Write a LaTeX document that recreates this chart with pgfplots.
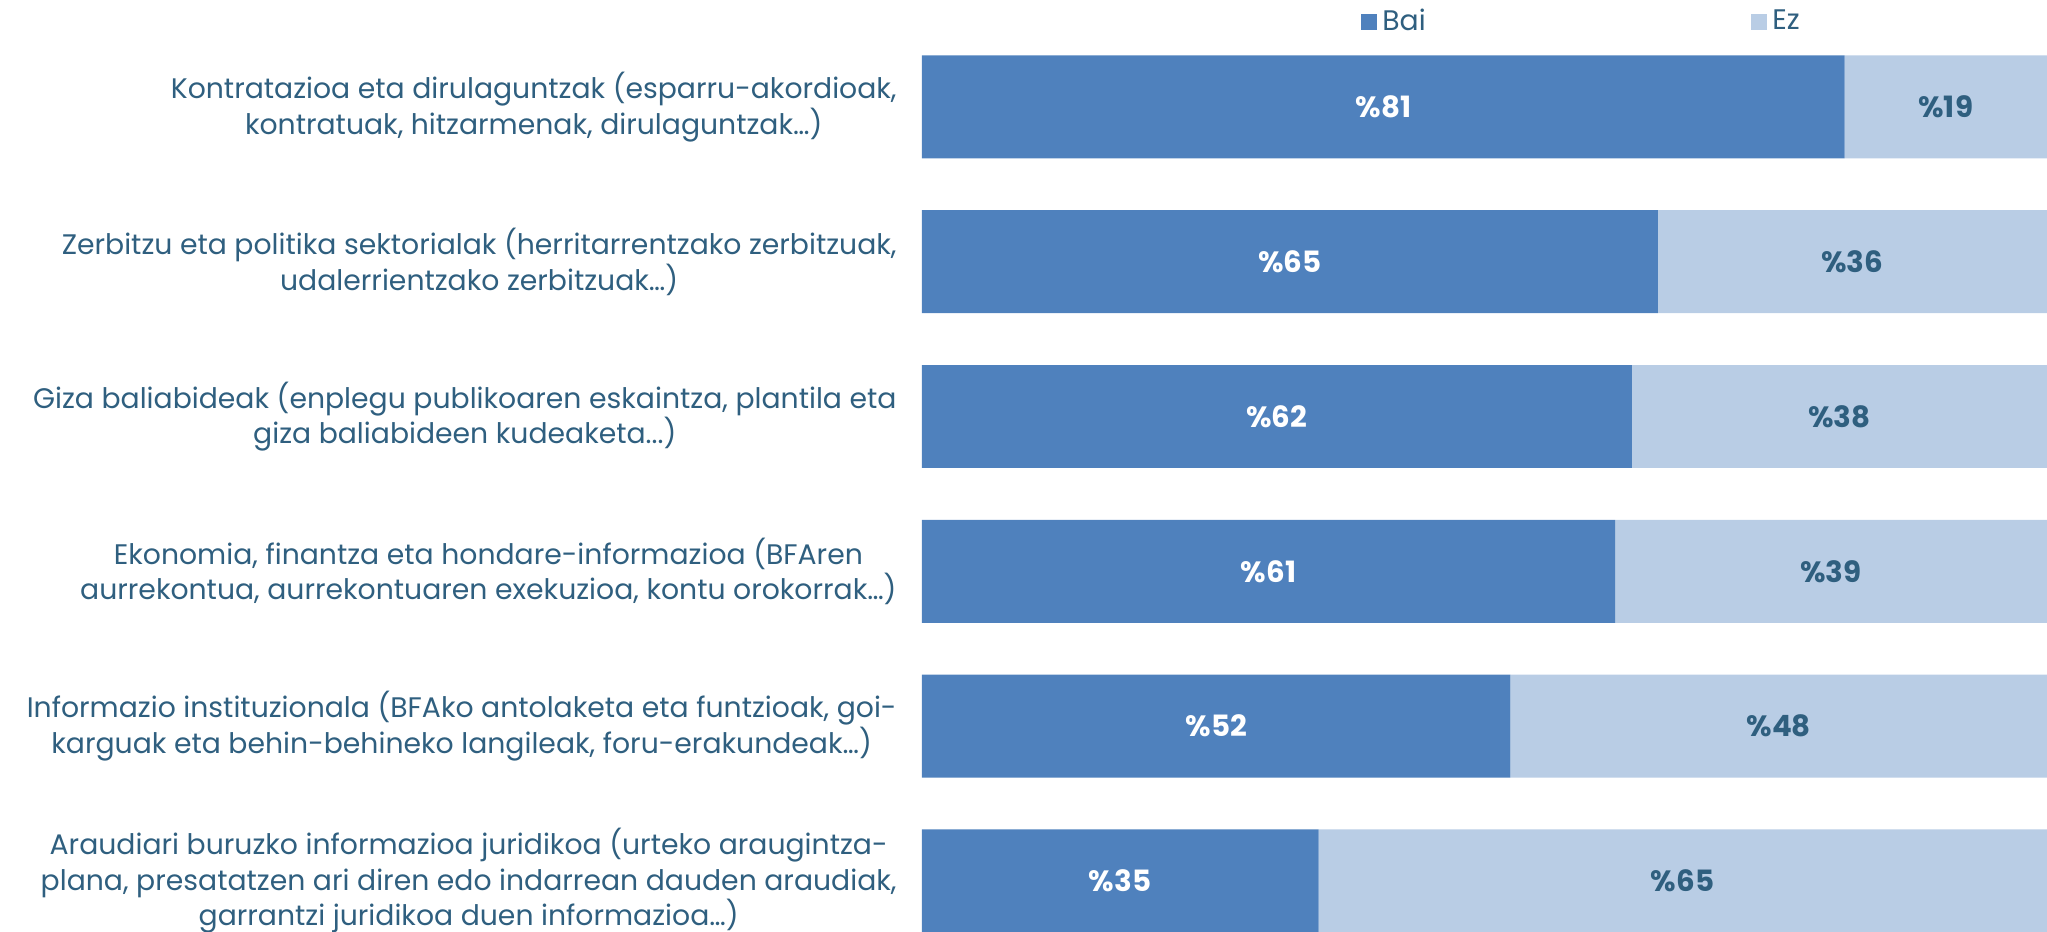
\documentclass[border=0pt]{standalone}
\usepackage{fontspec}
\setmainfont{Poppins}
\usepackage{pgfplots}
\pgfplotsset{compat=1.18}
\definecolor{bai}{HTML}{4F81BD}
\definecolor{ez}{HTML}{B9CDE5}
\definecolor{txt}{HTML}{2F5F7F}
\begin{document}
\begin{tikzpicture}
\path[use as bounding box] (0pt,0pt) rectangle (767.625pt,-349.5pt);
\begin{axis}[
  at={(345.75pt,-20.06pt)}, anchor=north west,
  scale only axis, width=421.875pt, height=329.6pt,
  xbar stacked, bar width=38.6pt,
  xmin=0, xmax=100, ymin=-0.345, ymax=5.333, y dir=reverse,
  hide x axis, axis y line*=left, y axis line style={draw=none},
  tick style={draw=none},
  ytick={0,1,2,3,4,5},
  yticklabels={
    {Kontratazioa eta dirulaguntzak (esparru-akordioak,\\kontratuak, hitzarmenak, dirulaguntzak…)},
    {Zerbitzu eta politika sektorialak (herritarrentzako zerbitzuak,\\udalerrientzako zerbitzuak…)},
    {Giza baliabideak (enplegu publikoaren eskaintza, plantila eta\\giza baliabideen kudeaketa.{}.{}.)},
    {Ekonomia, finantza eta hondare-informazioa (BFAren\\aurrekontua, aurrekontuaren exekuzioa, kontu orokorrak…)},
    {Informazio instituzionala (BFAko antolaketa eta funtzioak, goi-\\karguak eta behin-behineko langileak, foru-erakundeak…)},
    {Araudiari buruzko informazioa juridikoa (urteko araugintza-\\plana, presatatzen ari diren edo indarrean dauden araudiak,\\garrantzi juridikoa duen informazioa…)}},
  yticklabel style={align=center, font=\fontsize{10.6}{13.3}\selectfont, text=txt, xshift=-6pt},
  legend columns=2,
  legend style={at={(0.5876,1)}, anchor=center, yshift=11.8pt, draw=none, fill=none,
    font=\fontsize{10.6}{12}\selectfont, text=txt,
    /tikz/every even column/.append style={column sep=120pt}},
  legend image code/.code={\fill[#1] (0pt,-3pt) rectangle (6pt,3pt);},
]
\addplot[fill=bai, draw=none] coordinates {(82.0,0) (65.4,1) (63.1,2) (61.6,3) (52.3,4) (35.25,5)};
\addplot[fill=ez, draw=none] coordinates {(18.0,0) (34.6,1) (36.9,2) (38.4,3) (47.7,4) (64.75,5)};
\legend{Bai, Ez}
\end{axis}
\begin{axis}[
  at={(345.75pt,-20.06pt)}, anchor=north west,
  scale only axis, width=421.875pt, height=329.6pt,
  xmin=0, xmax=100, ymin=-0.345, ymax=5.333, y dir=reverse,
  hide axis, clip=false,
]
\addplot[draw=none, mark=none, nodes near coords, point meta=explicit symbolic,
  every node near coord/.append style={anchor=center, font=\bfseries\fontsize{11}{12}\selectfont, text=white}]
  coordinates {(41.0,0) [\%81] (32.7,1) [\%65] (31.55,2) [\%62] (30.8,3) [\%61] (26.15,4) [\%52] (17.6,5) [\%35]};
\addplot[draw=none, mark=none, nodes near coords, point meta=explicit symbolic,
  every node near coord/.append style={anchor=center, font=\bfseries\fontsize{11}{12}\selectfont, text=txt}]
  coordinates {(91.0,0) [\%19] (82.7,1) [\%36] (81.55,2) [\%38] (80.8,3) [\%39] (76.15,4) [\%48] (67.6,5) [\%65]};
\end{axis}
\end{tikzpicture}
\end{document}
